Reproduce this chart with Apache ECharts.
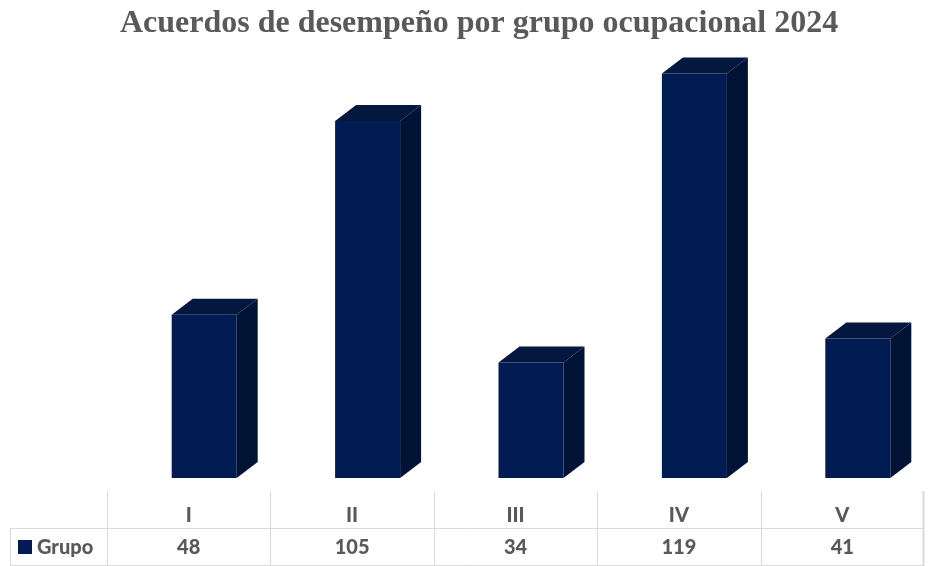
<!DOCTYPE html>
<html lang="es">
<head>
    <meta charset="UTF-8">
    <title>Acuerdos de desempeño por grupo ocupacional 2024</title>
    <script src="https://cdn.jsdelivr.net/npm/echarts@6/dist/echarts.min.js"></script>
    <style>
        html, body { margin: 0; padding: 0; background: #fff; }
        #main { width: 930px; height: 566px; }
    </style>
</head>
<body>
<div id="main"></div>
<script>
    // datos
    var grupos = ['I', 'II', 'III', 'IV', 'V']
    var valores = [48, 105, 34, 119, 41]
    var serieNombre = 'Grupo'

    var colFrente = '#001c52'
    var colTapa = '#03173f'
    var colLado = '#011334'
    var gris = '#595959'
    var linea = '#d9d9d9'

    var chart = echarts.init(document.getElementById('main'))

    // barra 3D: cara frontal + tapa + lado
    function barra3d(params, api) {
        var cat = api.value(0)
        var top = api.coord([cat, api.value(1)])
        var base = api.coord([cat, 0])
        var x0 = top[0] - 17, w = 65, dx = 21, dy = 16
        var y0 = top[1], y1 = base[1]
        return {
            type: 'group',
            children: [
                { type: 'rect', shape: { x: x0, y: y0, width: w, height: y1 - y0 }, style: { fill: colFrente } },
                { type: 'polygon', shape: { points: [[x0, y0], [x0 + dx, y0 - dy], [x0 + w + dx, y0 - dy], [x0 + w, y0]] }, style: { fill: colTapa } },
                { type: 'polygon', shape: { points: [[x0 + w, y0], [x0 + w + dx, y0 - dy], [x0 + w + dx, y1 - dy], [x0 + w, y1]] }, style: { fill: colLado } }
            ]
        }
    }

    var option = {
        animation: false,
        title: {
            text: 'Acuerdos de desempeño por grupo ocupacional 2024',
            left: 474, top: 3, textAlign: 'center',
            textStyle: { fontFamily: 'Liberation Serif', fontWeight: 'bold', fontSize: 32, color: gris }
        },
        grid: { left: 107, right: 6, top: 2, bottom: 88 },
        xAxis: {
            type: 'category',
            data: grupos,
            axisLine: { show: false },
            axisTick: { show: false },
            axisLabel: { show: false }
        },
        yAxis: {
            type: 'value', min: 0, max: 140,
            show: false
        },
        series: [{
            name: serieNombre,
            type: 'custom',
            renderItem: barra3d,
            encode: { x: 0, y: 1 },
            data: grupos.map(function (g, i) { return [i, valores[i]] })
        }]
    }
    chart.setOption(option)

    // tabla de datos debajo del grafico
    var g = []
    var txt = { fontFamily: 'Lato', fontWeight: 900, fontSize: 20, fill: gris, align: 'center', verticalAlign: 'middle' }
    var ancho = chart.convertToPixel({ xAxisIndex: 0 }, 1) - chart.convertToPixel({ xAxisIndex: 0 }, 0)
    grupos.forEach(function (n, i) {
        var cx = chart.convertToPixel({ xAxisIndex: 0 }, i)
        g.push({ type: 'text', x: cx, y: 516, style: Object.assign({}, txt, { text: n }) })
        g.push({ type: 'text', x: cx, y: 548, style: Object.assign({}, txt, { text: String(valores[i]) }) })
        var lx = Math.round(cx - ancho / 2) + 0.5
        g.push({ type: 'line', shape: { x1: lx, y1: 491, x2: lx, y2: 566 }, style: { stroke: linea, lineWidth: 1 } })
    })
    var rx = Math.round(chart.convertToPixel({ xAxisIndex: 0 }, grupos.length - 1) + ancho / 2) - 0.5
    g.push({ type: 'line', shape: { x1: rx, y1: 491, x2: rx, y2: 566 }, style: { stroke: linea, lineWidth: 2 } })
    g.push({ type: 'line', shape: { x1: 10, y1: 528.5, x2: rx, y2: 528.5 }, style: { stroke: linea, lineWidth: 1 } })
    g.push({ type: 'line', shape: { x1: 10.5, y1: 528, x2: 10.5, y2: 566 }, style: { stroke: linea, lineWidth: 1 } })
    g.push({ type: 'line', shape: { x1: 10, y1: 565.5, x2: rx, y2: 565.5 }, style: { stroke: linea, lineWidth: 1 } })
    g.push({ type: 'rect', shape: { x: 18, y: 540, width: 14, height: 14 }, style: { fill: colFrente } })
    g.push({ type: 'text', x: 37, y: 548, style: Object.assign({}, txt, { text: serieNombre, align: 'left' }) })

    chart.setOption({ graphic: g })
</script>
</body>
</html>
